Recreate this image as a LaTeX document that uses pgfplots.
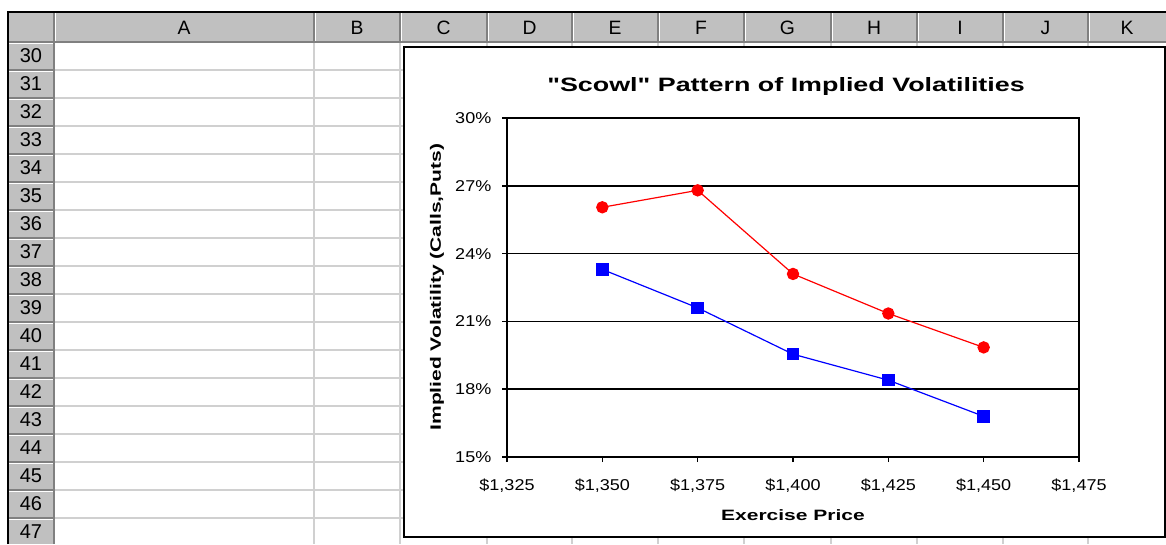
\documentclass[border=0pt]{standalone}
\usepackage{fontspec}
\setmainfont{Liberation Sans}
\newfontfamily\tickfont[FakeStretch=1.15]{Liberation Sans}
\newfontfamily\labfont[FakeStretch=1.4]{Liberation Sans}
\newfontfamily\ttlfont[FakeStretch=1.39]{Liberation Sans}
\usepackage{pgfplots}
\pgfplotsset{compat=1.18}

\definecolor{hdr}{RGB}{192,192,192}
\definecolor{hdrdark}{RGB}{128,128,128}
\definecolor{cell}{RGB}{208,208,208}

\begin{document}
\begin{tikzpicture}
% spreadsheet background, in pixels (y down)
\begin{scope}[x=0.75pt,y=-0.75pt]
  \path[use as bounding box,fill=white] (0,0) rectangle (1166,544);
  % cell grid
  \foreach \x in {314,400,487,572,658,744,831,917,1003,1088}
    \draw[cell,line width=1.2pt] (\x,42) -- (\x,544);
  \foreach \i in {1,...,18}
    \draw[cell,line width=1.2pt] (54,42+28*\i) -- (1166,42+28*\i);
  % headers
  \fill[hdr] (8,12) rectangle (1166,42);
  \fill[hdr] (8,42) rectangle (54,544);
  \foreach \x in {54,314,400,487,572,658,744,831,917,1003,1088} {
    \draw[hdrdark,line width=1pt] (\x,12) -- (\x,42);
    \draw[white,line width=0.8pt] (\x+1.6,13) -- (\x+1.6,41);
  }
  \foreach \i in {0,...,18} {
    \draw[hdrdark,line width=1pt] (8,42+28*\i) -- (54,42+28*\i);
    \draw[white,line width=0.8pt] (9,43.6+28*\i) -- (53,43.6+28*\i);
  }
  \draw[hdrdark,line width=1pt] (54,42) -- (1166,42);
  \draw[hdrdark,line width=1pt] (54,42) -- (54,544);
  \draw[black,line width=1.3pt] (8,544) -- (8,12) -- (1166,12);
  \foreach \c/\x in {A/184,B/357,C/443.5,D/529.5,E/615,F/701,G/787.5,H/874,I/960,J/1045.5,K/1127}
    \node[font=\fontsize{14.5}{16}\selectfont] at (\x,27.5) {\c};
  \foreach \r [count=\i from 0] in {30,...,47}
    \node[font=\fontsize{15}{17}\selectfont] at (31,56+28*\i) {\r};
  % chart area
  \draw[fill=white,line width=1.5pt] (404,47) rectangle (1165,537);
\end{scope}

\begin{axis}[
    at={(380.25pt,-342.75pt)}, anchor=south west,
    scale only axis, width=429pt, height=254.25pt,
    xmin=1325, xmax=1475, ymin=15, ymax=30,
    xtick={1325,1350,...,1475},
    xticklabels={{\$1,325},{\$1,350},{\$1,375},{\$1,400},{\$1,425},{\$1,450},{\$1,475}},
    ytick={15,18,...,30},
    yticklabels={15\%,18\%,21\%,24\%,27\%,30\%},
    ticklabel style={font=\tickfont\fontsize{11.75}{13}\selectfont},
    xticklabel style={yshift=-9.5pt},
    yticklabel style={xshift=-4.5pt},
    ymajorgrids,
    grid style={black,line width=1.2pt},
    axis line style={line width=1.5pt},
    tick pos=left, tick align=outside,
    major tick length=3.75pt,
    tick style={black,line width=1.2pt},
    clip=false,
]
\addplot[red,line width=0.9pt,mark=*,mark size=4.2pt,mark options={solid,fill=red}]
  coordinates {(1350,26.05) (1375,26.8) (1400,23.1) (1425,21.35) (1450,19.85)};
\addplot[blue,line width=0.9pt,mark=square*,mark size=4.2pt,mark options={solid,fill=blue}]
  coordinates {(1350,23.3) (1375,21.6) (1400,19.55) (1425,18.4) (1450,16.8)};
\end{axis}

\begin{scope}[x=0.75pt,y=-0.75pt]
  \node[font=\ttlfont\bfseries\fontsize{14.5}{17}\selectfont] at (786,86) {"Scowl" Pattern of Implied Volatilities};
  \node[font=\labfont\bfseries\fontsize{11.25}{13}\selectfont] at (793,515) {Exercise Price};
  \node[font=\labfont\bfseries\fontsize{11.25}{13}\selectfont,rotate=90] at (437,287) {Implied Volatility (Calls,Puts)};
\end{scope}
\end{tikzpicture}
\end{document}
